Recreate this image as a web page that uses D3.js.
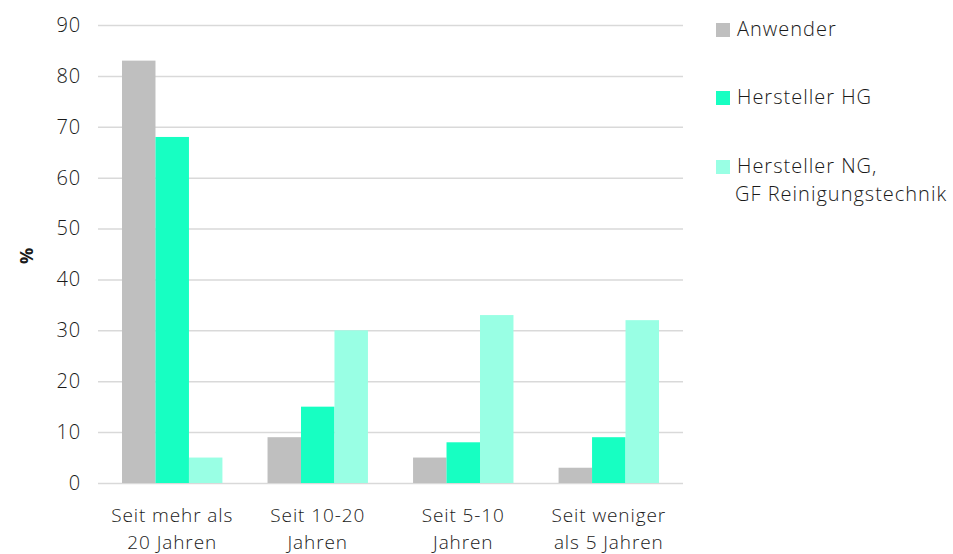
<!DOCTYPE html>
<html>
<head>
<meta charset="utf-8">
<script src="https://cdn.jsdelivr.net/npm/d3@7"></script>
<style>
  body { margin: 0; background: #fff; }
  svg text { font-family: "Open Sans", "DejaVu Sans", sans-serif; fill: #1a1a1a; }
</style>
</head>
<body>
<svg id="chart" width="953" height="554"></svg>
<script>
// Zeitraum der Nutzung, Anteil in Prozent
const categories = [
  ["Seit mehr als", "20 Jahren"],
  ["Seit 10-20", "Jahren"],
  ["Seit 5-10", "Jahren"],
  ["Seit weniger", "als 5 Jahren"]
];
const seriesNames = ["Anwender", "Hersteller HG", "Hersteller NG, GF Reinigungstechnik"];
const legendLines = [["Anwender"], ["Hersteller HG"], ["Hersteller NG,", "GF Reinigungstechnik"]];
const anwender = [83, 9, 5, 3];
const herstellerHG = [68, 15, 8, 9];
const herstellerNG = [5, 30, 33, 32];
const yTicks = [0, 10, 20, 30, 40, 50, 60, 70, 80, 90];
const colors = ["#bfbfbf", "#17ffc2", "#99ffe4"];

const series = [anwender, herstellerHG, herstellerNG];

const TEXT = "#1a1a1a";

const svg = d3.select("#chart");
const margin = { left: 98, right: 270, top: 25, bottom: 71 };
const W = 953, H = 554;
const innerW = W - margin.left - margin.right;
const innerH = H - margin.top - margin.bottom;

const g = svg.append("g").attr("transform", `translate(${margin.left},${margin.top})`);

const x0 = d3.scaleBand().domain(d3.range(categories.length)).range([0, innerW]).paddingInner(0.31).paddingOuter(0.165);
const x1 = d3.scaleBand().domain(d3.range(series.length)).range([0, x0.bandwidth()]);
const y = d3.scaleLinear().domain([0, 90]).range([innerH, 0]);

// Gitternetzlinien und Y-Achse
const yAxis = d3.axisLeft(y).tickValues(yTicks).tickSize(-innerW).tickPadding(17);
const ya = g.append("g").call(yAxis);
ya.select(".domain").remove();
ya.selectAll(".tick line").attr("stroke", "#d9d9d9").attr("stroke-width", 1.5);
ya.selectAll(".tick text")
  .attr("font-size", 20).attr("font-weight", 300)
  .attr("font-family", null)
  .style("fill", TEXT).style("letter-spacing", "0.8px");

// Balken
const groups = g.selectAll("g.grp").data(categories).join("g")
  .attr("class", "grp")
  .attr("transform", (d, i) => `translate(${x0(i)},0)`);

groups.selectAll("rect").data((d, i) => series.map((s, k) => ({ k, v: s[i] }))).join("rect")
  .attr("x", d => x1(d.k))
  .attr("width", x1.bandwidth())
  .attr("y", d => y(d.v))
  .attr("height", d => innerH - y(d.v))
  .attr("fill", d => colors[d.k]);

// Kategorienbeschriftung
const xa = g.append("g").attr("transform", `translate(0,${innerH})`)
  .call(d3.axisBottom(x0).tickSize(0).tickFormat(() => ""));
xa.select(".domain").remove();
xa.selectAll(".tick").each(function (d) {
  const t = d3.select(this).append("text")
    .attr("text-anchor", "middle")
    .attr("font-size", 19)
    .attr("font-weight", 300)
    .style("letter-spacing", "0.9px")
    .style("fill", TEXT);
  categories[d].forEach((line, j) => {
    t.append("tspan").attr("x", 0).attr("y", 39 + j * 27).text(line);
  });
});

// Y-Achsentitel
svg.append("text")
  .attr("transform", `translate(33,${margin.top + innerH / 2 + 2}) rotate(-90)`)
  .attr("text-anchor", "middle")
  .attr("font-size", 18)
  .attr("font-weight", "bold")
  .style("fill", TEXT)
  .text("%");

// Legende
const legendBase = [36, 104, 173];
const lg = svg.append("g").attr("transform", "translate(716,0)");
legendLines.forEach((lines, i) => {
  lg.append("rect").attr("x", 0).attr("y", legendBase[i] - 13).attr("width", 14).attr("height", 14).attr("fill", colors[i]);
  const t = lg.append("text").attr("font-size", 20).attr("font-weight", 300)
    .style("letter-spacing", "1px").style("fill", TEXT);
  lines.forEach((line, j) => {
    t.append("tspan").attr("x", j === 0 ? 21 : 19).attr("y", legendBase[i] + j * 28).text(line);
  });
});
</script>
</body>
</html>
